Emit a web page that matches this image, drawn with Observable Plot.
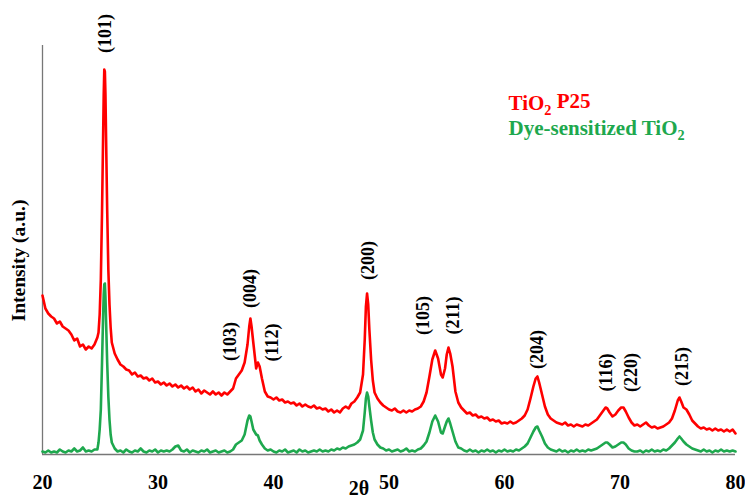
<!DOCTYPE html>
<html><head><meta charset="utf-8">
<script src="https://cdn.jsdelivr.net/npm/d3@7"></script>
<script src="https://cdn.jsdelivr.net/npm/@observablehq/plot@0.6"></script>
<style>html,body{margin:0;padding:0;overflow:hidden;background:#fff}</style>
</head><body><div id="chart"></div>
<script>
// 2θ sample positions (degrees)
const twoTheta = [
20,20.25,20.5,20.75,21,21.25,21.5,21.75,22,22.25,22.5,22.75,23,23.25,23.5,23.75,24,24.25,24.5,24.75,
24.85,24.95,25.05,25.15,25.25,25.3,25.35,25.4,25.45,25.5,25.6,25.7,25.8,25.9,26,
26.25,26.5,26.75,27,27.25,27.5,27.75,28,28.25,28.5,28.75,29,29.25,29.5,29.75,30,30.25,30.5,30.75,31,31.25,31.5,31.75,32,32.25,32.5,32.75,33,33.25,33.5,33.75,34,34.25,34.5,34.75,35,35.25,35.5,35.75,36,36.25,36.5,36.75,37,37.25,37.5,
37.75,37.9,38,38.1,38.25,38.5,38.65,38.8,39,39.25,39.5,
39.75,40,40.25,40.5,40.75,41,41.25,41.5,41.75,42,42.25,42.5,42.75,43,43.25,43.5,43.75,44,44.25,44.5,44.75,45,45.25,45.5,45.75,46,46.25,46.5,46.75,47,47.25,47.5,
47.75,47.9,48,48.1,48.2,48.3,48.45,48.6,48.75,
49,49.25,49.5,49.75,50,50.25,50.5,50.75,51,51.25,51.5,51.75,52,52.25,52.5,52.75,53,53.25,53.5,53.75,
54,54.25,54.5,54.65,54.85,55,55.15,55.3,55.5,55.75,56,
56.25,56.5,56.75,57,57.25,57.5,57.75,58,58.25,58.5,58.75,59,59.25,59.5,59.75,60,60.25,60.5,60.75,61,61.25,61.5,61.75,62,62.25,62.5,
62.7,62.85,63,63.25,63.5,63.75,
64,64.25,64.5,64.75,65,65.25,65.5,65.75,66,66.25,66.5,66.75,67,67.25,67.5,67.75,68,68.25,68.5,68.75,
68.9,69.1,69.35,69.6,69.85,70.1,70.3,70.5,70.75,
71,71.25,71.5,71.75,72,72.25,72.5,72.75,73,73.25,73.5,73.75,74,74.25,74.5,74.75,
75,75.15,75.3,75.5,75.75,
76,76.25,76.5,76.75,77,77.25,77.5,77.75,78,78.25,78.5,78.75,79,79.25,79.5,79.75,80
];
// TiO2 P25 intensity (a.u.)
const p25 = [
159,146,141,138,136,131,133,128,126,124,120,114,116,108,110,105,108,106,110,117,
122,140,175,240,320,360,385,383,360,320,245,185,150,127,112,
101,95,90,88,85,84,80,82,78,79,76,77,74,76,72,73,70,72,69,71,68,70,67,69,66,68,65,67,63,65,61,64,62,60,63,60,62,59,62,60,63,66,76,80,84,92,
110,128,136,128,112,86,92,88,76,63,58,
57,55,57,54,55,52,53,51,52,49,51,48,50,48,47,49,46,47,45,46,43,45,42,44,42,46,48,46,51,53,57,62,
80,115,148,161,150,125,95,74,62,
56,52,49,47,45,44,46,43,42,44,42,44,43,45,46,48,53,62,78,95,
104,96,80,77,86,100,107,101,88,63,52,
47,44,41,42,39,40,37,38,36,37,34,35,33,34,31,32,31,33,31,32,34,36,39,45,56,68,
76,78,72,60,48,40,
36,34,32,31,30,32,29,30,28,30,29,28,30,29,31,33,35,39,43,47,
46,42,38,40,44,47,47,43,37,
32,29,30,28,30,32,29,27,28,26,27,28,30,32,36,44,
54,57,53,47,45,
40,34,31,28,26,27,25,26,24,26,24,25,23,25,23,25,21
];
// Dye-sensitized TiO2 intensity (a.u.)
const dye = [
3,2,4,2,3,2,5,3,2,4,3,6,3,4,7,3,4,3,5,5,
12,25,45,90,140,160,170,171,158,135,92,58,35,20,12,
6,3,4,2,5,3,2,4,3,6,3,2,4,3,5,2,4,3,4,3,5,8,9,4,3,5,2,4,3,2,4,3,5,2,3,4,2,3,4,2,3,5,10,12,14,20,
34,39,38,33,25,20,19,14,10,6,4,
5,3,2,4,3,5,2,3,4,2,5,3,4,2,3,4,3,5,3,4,3,5,4,6,5,7,6,8,9,10,12,15,
24,42,56,62,58,48,34,22,15,
10,7,6,4,5,3,4,5,3,4,6,3,4,3,5,6,9,13,22,33,
39,33,22,21,28,33,36,31,23,13,7,
6,4,3,5,3,4,2,4,3,5,3,4,2,4,3,5,3,4,3,5,4,6,8,11,17,23,
27,28,24,18,11,7,
5,4,3,5,3,4,2,4,3,5,3,4,3,5,4,5,6,8,10,12,
12,10,7,8,10,12,12,10,6,
4,3,3,4,2,4,3,5,3,4,3,5,4,6,9,12,
16,18,16,13,10,
8,6,5,4,3,5,3,4,2,4,3,5,3,4,3,4,3
];
const xTicks = [20,30,40,50,60,70,80];
const peakLabels = ["(101)","(103)","(004)","(112)","(200)","(105)","(211)","(204)","(116)","(220)","(215)"];
const peakLabelX = [25.45,36.28,38.0,39.9,48.2,52.99,55.58,62.86,68.83,70.99,75.41];
const peakLabelY = [421,113,166,112,194,139,139,105,82,82,88];
const seriesNames = ["TiO2 P25","Dye-sensitized TiO2"];
const seriesColors = ["#ff0000","#1ea84e"];

const rows = twoTheta.map((t,i)=>({t, p25: p25[i], dye: dye[i]}));
const serif = "'Liberation Serif','Times New Roman',serif";

const svg = Plot.plot({
  width: 745, height: 498,
  marginLeft: 42, marginRight: 10, marginTop: 45, marginBottom: 44,
  x: {domain: [20,80]},
  y: {domain: [0,409], axis: null},
  style: {background: "#fff", color: "#000", overflow: "hidden"},
  marks: [
    Plot.ruleY([0], {x1: 20, x2: 80, stroke: "#777", strokeWidth: 1.3}),
    Plot.ruleX([20], {y1: 0, y2: 409, stroke: "#777", strokeWidth: 1.3}),
    Plot.line(rows, {x: "t", y: "dye", stroke: seriesColors[1], strokeWidth: 2.6}),
    Plot.line(rows, {x: "t", y: "p25", stroke: seriesColors[0], strokeWidth: 2.6}),
    Plot.axisX(xTicks, {tickSize: 0, tickPadding: 20, label: null, fontSize: 20, fontWeight: "bold", fontFamily: serif, fill: "#000"}),
    Plot.text(peakLabels, {x: (d,i)=>peakLabelX[i], y: (d,i)=>peakLabelY[i], text: d=>d, rotate: -90,
      fontSize: 18, fontWeight: "bold", fontFamily: serif, fill: "#000"}),
    Plot.text(["Intensity (a.u.)"], {x: 20, y: 194, dx: -24, text: d=>d, rotate: -90,
      fontSize: 19.5, fontWeight: "bold", fontFamily: serif, fill: "#000"}),
    Plot.text(["2θ"], {x: 47.4, y: -34, text: d=>d, fontSize: 20, fontWeight: "bold", fontFamily: serif, fill: "#000"}),
    Plot.text(seriesNames, {x: 60.35, y: (d,i)=>[351,326][i], text: d=>d, textAnchor: "start",
      fill: (d,i)=>seriesColors[i], fontSize: 21, fontWeight: "bold", fontFamily: serif})
  ]
});
document.getElementById("chart").appendChild(svg);
svg.setAttribute("overflow","hidden");

// subscripts in legend: TiO2 -> TiO₂
d3.select(svg).selectAll("text").each(function(){
  const s = this.textContent;
  if (!seriesNames.includes(s)) return;
  const el = d3.select(this);
  el.text(null);
  const parts = s.split("TiO2");
  if (parts[0]) el.append("tspan").text(parts[0]);
  el.append("tspan").text("TiO");
  el.append("tspan").attr("dy","0.3em").attr("font-size","0.68em").text("2");
  if (parts[1]) el.append("tspan").attr("dy","-0.3em").text(parts[1]);
});
</script>
</body></html>
